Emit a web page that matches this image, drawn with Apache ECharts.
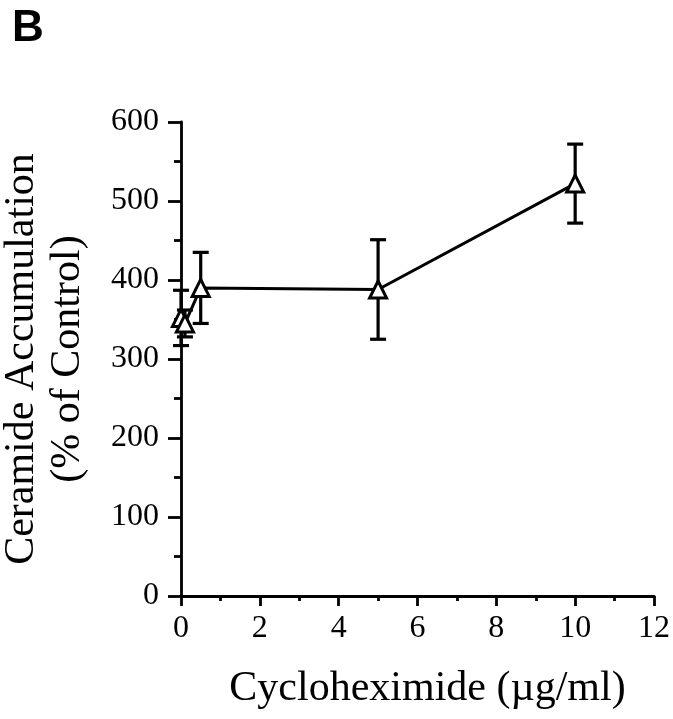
<!DOCTYPE html>
<html>
<head>
<meta charset="utf-8">
<script src="https://cdn.jsdelivr.net/npm/echarts@6/dist/echarts.min.js"></script>
<style>
html,body{margin:0;padding:0;background:#fff;}
#chart{width:673px;height:719px;}
</style>
</head>
<body>
<div id="chart"></div>
<script>
// Data
const doses = [0, 0.1, 0.5, 5, 10];            // Cycloheximide (µg/ml)
const ceramide = [352, 345, 390, 388, 522];    // % of control
const errors = [35, 17, 45, 63, 50];           // +/- error
const xTicks = [0, 2, 4, 6, 8, 10, 12];
const yTicks = [0, 100, 200, 300, 400, 500, 600];
const panelLabel = 'B';
const xTitle = 'Cycloheximide (µg/ml)';
const yTitle = 'Ceramide Accumulation\n(% of Control)';

const serif = '"Liberation Serif", "Times New Roman", serif';
const chart = echarts.init(document.getElementById('chart'), null, {renderer: 'canvas'});

const lineData = doses.map((d, i) => [d, ceramide[i]]);
const errData = doses.map((d, i) => [d, ceramide[i] - errors[i], ceramide[i] + errors[i]]);

const axisCommon = {
  type: 'value',
  axisLine: {show: true, onZero: false, lineStyle: {color: '#000', width: 2.8}},
  splitLine: {show: false},
  axisLabel: {fontFamily: serif, fontSize: 32, color: '#000'},
  nameLocation: 'middle',
  nameTextStyle: {fontFamily: serif, fontSize: 42, color: '#000'}
};

const option = {
  animation: false,
  backgroundColor: '#fff',
  title: {
    text: panelLabel, left: 7, top: 2,
    textStyle: {fontFamily: '"Liberation Sans", Arial, sans-serif', fontWeight: 'bold', fontSize: 44, color: '#000'}
  },
  grid: {left: 181, right: 19, top: 122, bottom: 123, containLabel: false, outerBoundsMode: 'none'},
  xAxis: Object.assign({}, axisCommon, {
    min: xTicks[0], max: xTicks[xTicks.length - 1], interval: xTicks[1] - xTicks[0],
    axisTick: {show: true, length: 10, lineStyle: {color: '#000', width: 2.8}},
    minorTick: {show: true, splitNumber: 2, length: 5, lineStyle: {color: '#000', width: 2.8}},
    axisLabel: Object.assign({}, axisCommon.axisLabel, {margin: 17}),
    name: xTitle, nameGap: 72,
    nameTextStyle: Object.assign({}, axisCommon.nameTextStyle, {padding: [0, 0, 0, 20]})
  }),
  yAxis: Object.assign({}, axisCommon, {
    min: yTicks[0], max: yTicks[yTicks.length - 1], interval: yTicks[1] - yTicks[0],
    axisTick: {show: true, length: 13, lineStyle: {color: '#000', width: 2.8}},
    minorTick: {show: true, splitNumber: 2, length: 7, lineStyle: {color: '#000', width: 2.8}},
    axisLabel: Object.assign({}, axisCommon.axisLabel, {margin: 22}),
    name: yTitle, nameGap: 90,
    nameTextStyle: Object.assign({}, axisCommon.nameTextStyle, {lineHeight: 46})
  }),
  series: [
    {
      type: 'custom',
      z: 1,
      data: errData,
      renderItem: function (params, api) {
        const x = api.value(0);
        const lo = api.coord([x, api.value(1)]);
        const hi = api.coord([x, api.value(2)]);
        const half = 8;
        const style = {stroke: '#000', lineWidth: 3.2, fill: null};
        return {
          type: 'group',
          children: [
            {type: 'line', shape: {x1: lo[0], y1: lo[1], x2: hi[0], y2: hi[1]}, style: style},
            {type: 'line', shape: {x1: lo[0] - half, y1: lo[1], x2: lo[0] + half, y2: lo[1]}, style: style},
            {type: 'line', shape: {x1: hi[0] - half, y1: hi[1], x2: hi[0] + half, y2: hi[1]}, style: style}
          ]
        };
      }
    },
    {
      type: 'line',
      z: 5,
      data: lineData,
      symbol: 'triangle',
      symbolSize: 17,
      showAllSymbol: true,
      lineStyle: {color: '#000', width: 3},
      itemStyle: {color: '#fff', borderColor: '#000', borderWidth: 3}
    }
  ]
};
chart.setOption(option);
</script>
</body>
</html>
